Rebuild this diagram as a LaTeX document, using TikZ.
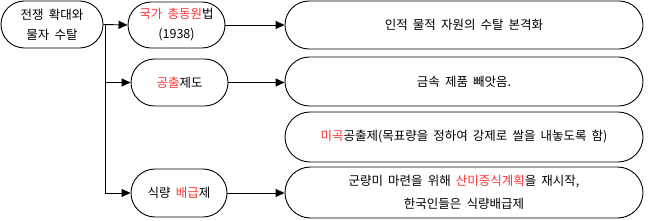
\documentclass[tikz,border=0pt]{standalone}
\usepackage{fontspec}
\setmainfont{Noto Sans CJK KR}[WordSpace=1.8]
\usetikzlibrary{arrows.meta,shapes.misc}
\definecolor{hl}{RGB}{255,51,51}
\newcommand{\hlt}[1]{\textcolor{hl}{#1}}
\tikzset{
  x=1pt, y=-1pt,
  pill/.style={rounded rectangle, draw=black, line width=0.9pt, align=center,
    inner sep=0pt, font=\fontsize{12.5}{20}\selectfont},
  arr/.style={line width=0.9pt, -{Triangle[length=9pt,width=8pt]}},
  link/.style={line width=0.9pt}
}
\begin{document}
\begin{tikzpicture}
\useasboundingbox (0,0) rectangle (653,221);
\node[pill, minimum width=102pt, minimum height=47pt] (n1) at (52,24.5) {전쟁 확대와\\물자 수탈};
\node[pill, minimum width=97pt, minimum height=46pt] (n2) at (176.5,25) {\hlt{국가 총동원}법\\(1938)};
\node[pill, minimum width=97pt, minimum height=47pt] (n4) at (179.5,82.5) {\hlt{공출}제도};
\node[pill, minimum width=96pt, minimum height=48pt] (n7) at (179,193) {식량 \hlt{배급}제};
\node[pill, minimum width=358pt, minimum height=48pt] (r1) at (464,25) {인적 물적 자원의 수탈 본격화};
\node[pill, minimum width=358pt, minimum height=49pt] (r2) at (464,81.5) {금속 제품 빼앗음.};
\node[pill, minimum width=358pt, minimum height=50pt] (r3) at (464,137) {\hlt{미곡}공출제(목표량을 정하여 강제로 쌀을 내놓도록 함)};
\node[pill, minimum width=358pt, minimum height=51pt] (r4) at (464,192.5) {군량미 마련을 위해 \hlt{산미증식계획}을 재시작,\\[3pt]한국인들은 식량배급제};
\coordinate (t) at (105,24.5);
\draw[arr] (n1.east) -- (n2.west);
\draw[arr] (t) |- (n4.west);
\draw[arr] (t) |- (n7.west);
\draw[arr] (n2.east) -- (r1.west);
\draw[arr] (n4.east) -- (n4.east -| r2.west);
\draw[arr] (n7.east) -- (n7.east -| r4.west);
\end{tikzpicture}
\end{document}
